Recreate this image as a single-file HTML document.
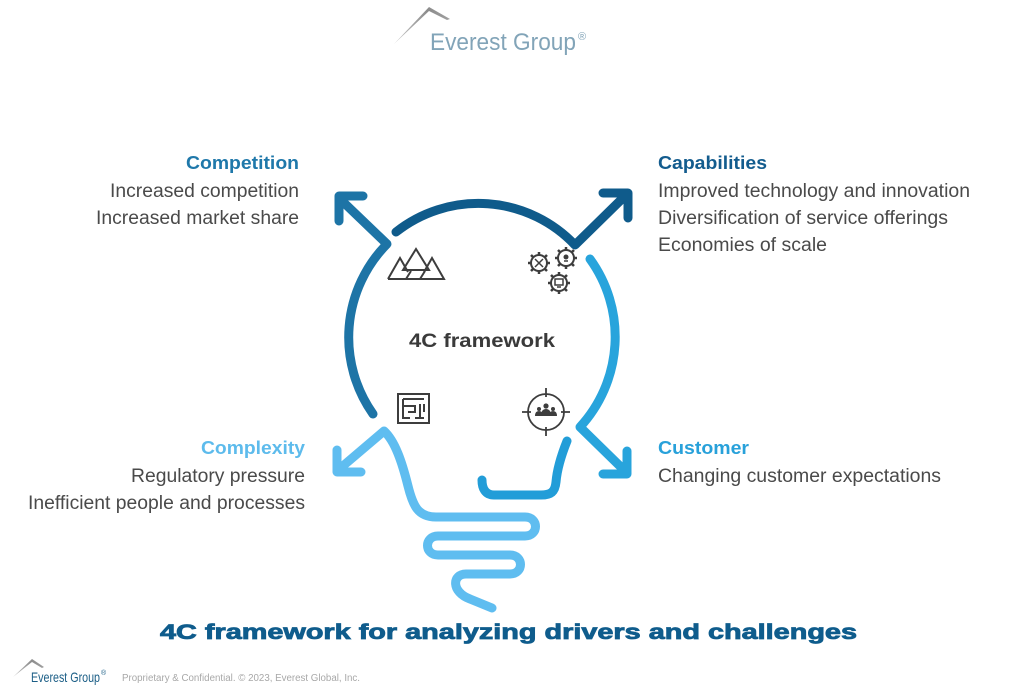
<!DOCTYPE html>
<html><head><meta charset="utf-8"><style>
html,body{margin:0;padding:0;background:#fff;}
svg{display:block;}
</style></head><body>
<svg width="1024" height="690" viewBox="0 0 1024 690" xmlns="http://www.w3.org/2000/svg" font-family="Liberation Sans, Arial, sans-serif">
<defs>
<linearGradient id="roof" x1="0" y1="0" x2="1" y2="0">
<stop offset="0" stop-color="#c8c8c8"/><stop offset="0.6" stop-color="#8c8c8c"/><stop offset="1" stop-color="#a0a0a0"/>
</linearGradient>
</defs>
<rect width="1024" height="690" fill="#fff"/>

<!-- Header logo -->
<path d="M394,44 L429,7 L450,19 L447,20 L429,11 Z" fill="url(#roof)"/>
<text x="430" y="50" font-size="24" fill="#82a4b8" textLength="146" lengthAdjust="spacingAndGlyphs">Everest Group</text>
<text x="578" y="40" font-size="11" fill="#82a4b8">®</text>

<!-- Diagram strokes -->
<g fill="none" stroke-linecap="round" stroke-linejoin="round" stroke-width="9">
  <path d="M396,232 A133,133 0 0,1 575,245 L627,194" stroke="#0f5b8b"/>
  <path d="M603,193 L628,193 L628,218" stroke="#0f5b8b"/>
  <path d="M373,414 A133,133 0 0,1 387,244 L339,198" stroke="#1d74a6"/>
  <path d="M339,221 L339,196 L363,196" stroke="#1d74a6"/>
  <path d="M590,259 A133,133 0 0,1 580,427 L626,472" stroke="#28a4dc"/>
  <path d="M627,451 L627,474 L603,474" stroke="#28a4dc"/>
  <path d="M567,441 C561,456 557,470 556,482 C555,492 551,495 541,495 L494,495 C485,495 482,488 482,480" stroke="#229dd8"/>
  <path d="M337,471 L384,431 C395,441 402,462 408,486 C413,506 418,517 436,517 L525,517 C539,517 539,536 525,536 L438,536 C424,536 424,555 438,555 L510,555 C524,555 524,574 510,574 L466,574 C452,574 451,592 470,599 L492,608" stroke="#5fbdf0"/>
  <path d="M337,450 L337,472 L361,472" stroke="#5fbdf0"/>
</g>

<!-- Icons -->
<g fill="none" stroke="#3d3d3d" stroke-width="2" stroke-linejoin="miter">
  <path d="M388,279 L400,258 L408,272"/>
  <path d="M403,270 L416,249 L429,270 Z"/>
  <path d="M424,272 L432,258 L444,279 L388,279"/>
  <path d="M406,279 L411,271 M420,279 L425,271"/>
  <rect x="398" y="394" width="31" height="29"/>
  <path d="M403,399 L424,399 M403,399 L403,418 L410,418 M403,406 L415,406 L415,412 L408,412 M420,404 L420,418 L424,418 M415,418 L420,418 M424,404 L424,412"/>
  <circle cx="546" cy="412" r="18" stroke-width="1.8"/>
  <path d="M546,388 L546,397 M546,427 L546,436 M522,412 L531,412 M561,412 L570,412" stroke-width="1.8"/>
</g>
<g fill="#3d3d3d">
  <circle cx="546" cy="406" r="2.6"/>
  <path d="M541,416 Q541,409 546,409 Q551,409 551,416 Z"/>
  <circle cx="539" cy="409" r="2"/>
  <path d="M535,416 Q535,411 539,411 Q543,411 543,416 Z"/>
  <circle cx="553" cy="409" r="2"/>
  <path d="M549,416 Q549,411 553,411 Q557,411 557,416 Z"/>
</g>
<g fill="none" stroke="#3d3d3d" stroke-width="2">
  <circle cx="539" cy="263" r="8"/>
  <path d="M539,252 L539,255 M539,271 L539,274 M528,263 L531,263 M547,263 L550,263 M531,255 L533,257 M545,269 L547,271 M547,255 L545,257 M531,271 L533,269" stroke-width="2.5"/>
  <path d="M535,259 L543,267 M543,259 L535,267" stroke-width="1.5"/>
  <circle cx="566" cy="258" r="8"/>
  <path d="M566,247 L566,250 M566,266 L566,269 M555,258 L558,258 M574,258 L577,258 M558,250 L560,252 M572,264 L574,266 M574,250 L572,252 M558,266 L560,264" stroke-width="2.5"/>
  <circle cx="566" cy="257" r="2.5" fill="#3d3d3d" stroke="none"/>
  <path d="M564,261 L568,261" stroke-width="1.5"/>
  <circle cx="559" cy="283" r="8"/>
  <path d="M559,272 L559,275 M559,291 L559,294 M548,283 L551,283 M567,283 L570,283 M551,275 L553,277 M565,289 L567,291 M567,275 L565,277 M551,291 L553,289" stroke-width="2.5"/>
  <rect x="555" y="279" width="8" height="6" stroke-width="1.5"/>
  <path d="M557,287 L561,287" stroke-width="1.5"/>
</g>

<text x="482" y="347" font-size="19" font-weight="bold" fill="#3a3a3a" text-anchor="middle" textLength="146" lengthAdjust="spacingAndGlyphs">4C framework</text>

<text x="299" y="169" font-size="18" font-weight="bold" fill="#1f78aa" text-anchor="end" textLength="113" lengthAdjust="spacingAndGlyphs">Competition</text>
<text x="299" y="197" font-size="19" fill="#4a4a4a" text-anchor="end" textLength="189" lengthAdjust="spacingAndGlyphs">Increased competition</text>
<text x="299" y="224" font-size="19" fill="#4a4a4a" text-anchor="end" textLength="203" lengthAdjust="spacingAndGlyphs">Increased market share</text>

<text x="658" y="169" font-size="18" font-weight="bold" fill="#135c8e" textLength="109" lengthAdjust="spacingAndGlyphs">Capabilities</text>
<text x="658" y="197" font-size="19" fill="#4a4a4a" textLength="312" lengthAdjust="spacingAndGlyphs">Improved technology and innovation</text>
<text x="658" y="224" font-size="19" fill="#4a4a4a" textLength="290" lengthAdjust="spacingAndGlyphs">Diversification of service offerings</text>
<text x="658" y="251" font-size="19" fill="#4a4a4a" textLength="169" lengthAdjust="spacingAndGlyphs">Economies of scale</text>

<text x="305" y="454" font-size="18" font-weight="bold" fill="#5dbbec" text-anchor="end" textLength="104" lengthAdjust="spacingAndGlyphs">Complexity</text>
<text x="305" y="482" font-size="19" fill="#4a4a4a" text-anchor="end" textLength="174" lengthAdjust="spacingAndGlyphs">Regulatory pressure</text>
<text x="305" y="509" font-size="19" fill="#4a4a4a" text-anchor="end" textLength="277" lengthAdjust="spacingAndGlyphs">Inefficient people and processes</text>

<text x="658" y="454" font-size="18" font-weight="bold" fill="#28a1da" textLength="91" lengthAdjust="spacingAndGlyphs">Customer</text>
<text x="658" y="482" font-size="19" fill="#4a4a4a" textLength="283" lengthAdjust="spacingAndGlyphs">Changing customer expectations</text>

<text x="160" y="639" font-size="21" font-weight="bold" fill="#0f5c8c" stroke="#0f5c8c" stroke-width="0.8" textLength="697" lengthAdjust="spacingAndGlyphs">4C framework for analyzing drivers and challenges</text>

<path d="M13,677 L32,659 L44,667 L42,668 L32,662 Z" fill="url(#roof)"/>
<text x="31" y="682" font-size="14" fill="#1b5e86" textLength="69" lengthAdjust="spacingAndGlyphs">Everest Group</text>
<text x="101" y="675" font-size="7" fill="#1b5e86">®</text>
<text x="122" y="681" font-size="10" fill="#a8a8a8" textLength="238" lengthAdjust="spacingAndGlyphs">Proprietary &amp; Confidential. © 2023, Everest Global, Inc.</text>
</svg>
</body></html>
